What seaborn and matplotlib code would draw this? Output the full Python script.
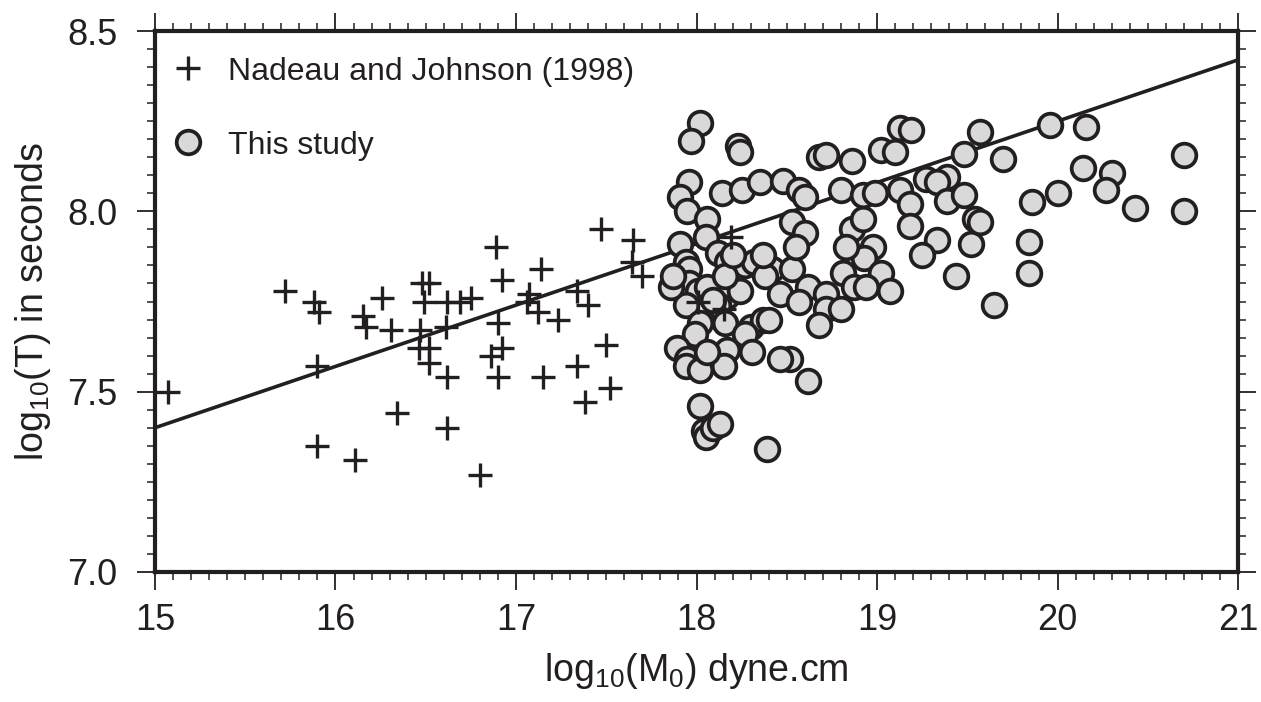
import matplotlib
matplotlib.use("Agg")
import matplotlib.pyplot as plt
from matplotlib.lines import Line2D
from matplotlib.ticker import MultipleLocator, FormatStrFormatter
import seaborn as sns
import pandas as pd

# Nadeau and Johnson (1998): log10(M0), log10(T)
nj_m0 = [15.07, 15.72, 15.88, 15.91, 15.90, 15.90, 16.11, 16.15, 16.17, 16.26,
         16.31, 16.34, 16.48, 16.52, 16.49, 16.47, 16.46, 16.52, 16.52, 16.62,
         16.69, 16.75, 16.61, 16.62, 16.62, 16.80, 16.89, 16.92, 17.14, 17.07,
         17.06, 17.12, 17.23, 16.90, 16.92, 16.86, 16.90, 17.15, 17.34, 17.40,
         17.34, 17.50, 17.52, 17.38, 17.47, 17.65, 17.64, 17.70, 18.19, 18.01,
         18.15]
nj_t = [7.50, 7.78, 7.75, 7.72, 7.57, 7.35, 7.31, 7.71, 7.68, 7.76,
        7.67, 7.44, 7.80, 7.80, 7.75, 7.67, 7.62, 7.62, 7.58, 7.75,
        7.75, 7.76, 7.68, 7.54, 7.40, 7.27, 7.90, 7.81, 7.84, 7.77,
        7.75, 7.72, 7.70, 7.69, 7.62, 7.60, 7.54, 7.54, 7.78, 7.74,
        7.57, 7.63, 7.51, 7.47, 7.95, 7.92, 7.86, 7.82, 7.93, 7.75,
        7.73]

# This study
ts_m0 = [18.02, 17.97, 18.23, 18.24, 17.96, 18.14, 18.25, 18.35, 18.48, 18.57,
         18.60, 18.68, 18.72, 18.86, 17.91, 17.95, 18.06, 18.05, 18.53, 18.60,
         18.86, 18.92, 17.91, 18.12, 18.17, 18.27, 18.32, 17.94, 17.96, 18.42,
         18.38, 18.53, 18.55, 18.81, 18.98, 18.93, 19.02, 18.83, 17.88, 17.96,
         18.01, 18.17, 18.24, 18.46, 18.62, 18.72, 18.87, 18.94, 19.07, 17.94,
         18.12, 18.57, 18.72, 18.80, 18.02, 18.16, 18.30, 18.37, 17.99, 18.27,
         18.68, 17.89, 18.17, 18.31, 17.95, 17.94, 18.02, 18.15, 18.52, 18.62,
         18.02, 18.04, 18.05, 18.09, 18.13, 18.39,
         19.13, 19.19, 19.57, 19.48, 19.70, 19.96, 20.16, 20.70, 20.14, 20.30,
         20.27, 20.00, 19.86, 20.43, 20.70, 19.84, 19.52, 19.33, 19.25, 19.27,
         19.13, 19.18, 19.18, 19.39, 19.33, 19.39, 19.48, 19.54, 19.57, 19.02,
         19.10, 18.80, 18.92, 18.99, 19.84, 19.44, 19.65,
         18.06, 18.16, 18.20, 18.37, 18.09, 18.06, 18.40, 18.46, 17.86, 17.87]
ts_t = [8.245, 8.195, 8.18, 8.165, 8.08, 8.05, 8.06, 8.08, 8.085, 8.06,
        8.04, 8.15, 8.155, 8.14, 8.04, 8.00, 7.98, 7.93, 7.97, 7.94,
        7.95, 7.98, 7.91, 7.885, 7.86, 7.85, 7.86, 7.86, 7.84, 7.84,
        7.82, 7.84, 7.90, 7.83, 7.90, 7.87, 7.83, 7.90, 7.79, 7.80,
        7.78, 7.765, 7.78, 7.77, 7.79, 7.77, 7.79, 7.79, 7.78, 7.74,
        7.74, 7.75, 7.73, 7.73, 7.69, 7.69, 7.68, 7.70, 7.66, 7.66,
        7.685, 7.62, 7.615, 7.61, 7.59, 7.57, 7.56, 7.57, 7.59, 7.53,
        7.46, 7.39, 7.375, 7.40, 7.41, 7.34,
        8.23, 8.225, 8.22, 8.16, 8.145, 8.24, 8.235, 8.155, 8.12, 8.105,
        8.06, 8.05, 8.025, 8.01, 8.00, 7.915, 7.91, 7.92, 7.88, 8.09,
        8.06, 8.02, 7.96, 8.095, 8.08, 8.03, 8.045, 7.98, 7.97, 8.17,
        8.165, 8.06, 8.045, 8.05, 7.83, 7.82, 7.74,
        7.79, 7.82, 7.88, 7.88, 7.755, 7.61, 7.70, 7.59, 7.79, 7.82]

# fitted line end points
fit_m0 = [15.0, 21.0]
fit_t = [7.40, 8.42]

nj = pd.DataFrame({"m0": nj_m0, "t": nj_t})
ts = pd.DataFrame({"m0": ts_m0, "t": ts_t})
fit = pd.DataFrame({"m0": fit_m0, "t": fit_t})

ink = "#231f20"
fill = "#d9d9d9"

sns.set_theme(style="ticks")
plt.rcParams["font.family"] = ["Liberation Sans", "DejaVu Sans"]
plt.rcParams["mathtext.default"] = "regular"

fig = plt.figure(figsize=(12.61, 7.02), dpi=100)
ax = fig.add_axes([0.1229, 0.1852, 0.8589, 0.7706])

sns.lineplot(data=fit, x="m0", y="t", ax=ax, color=ink, linewidth=2.6, zorder=2)
sns.scatterplot(data=ts, x="m0", y="t", ax=ax, marker="o", s=290,
                facecolor=fill, edgecolor=ink, linewidth=2.7, zorder=3)
sns.scatterplot(data=nj, x="m0", y="t", ax=ax, marker="+", s=280,
                color=ink, linewidth=2.4, zorder=4)

ax.set_xlim(15, 21)
ax.set_ylim(7.0, 8.5)
ax.xaxis.set_major_locator(MultipleLocator(1))
ax.xaxis.set_minor_locator(MultipleLocator(0.1))
ax.yaxis.set_major_locator(MultipleLocator(0.5))
ax.yaxis.set_minor_locator(MultipleLocator(0.05))
ax.yaxis.set_major_formatter(FormatStrFormatter("%.1f"))

for sp in ax.spines.values():
    sp.set_linewidth(3)
    sp.set_color(ink)
    sp.set_visible(True)

ax.tick_params(which="both", direction="out", top=True, right=True,
               color=ink, labelcolor=ink, labelsize=26)
ax.tick_params(which="major", length=13, width=1.3)
ax.tick_params(which="minor", length=6, width=1.1)
ax.tick_params(axis="x", which="major", pad=9)
ax.tick_params(axis="y", which="major", pad=14)

ax.set_xlabel("log$_{10}$(M$_0$) dyne.cm", fontsize=27, color=ink, labelpad=10)
ax.set_ylabel("log$_{10}$(T) in seconds", fontsize=27, color=ink, labelpad=10)

handles = [
    Line2D([], [], linestyle="none", marker="+", markersize=17,
           markeredgewidth=2.4, color=ink),
    Line2D([], [], linestyle="none", marker="o", markersize=17,
           markerfacecolor=fill, markeredgecolor=ink, markeredgewidth=2.7),
]
ax.legend(handles, ["Nadeau and Johnson (1998)", "This study"],
          loc="upper left", bbox_to_anchor=(-0.014, 1.0), frameon=False,
          fontsize=23, labelspacing=1.38, handlelength=1.4,
          handletextpad=0.55, borderaxespad=0.3, borderpad=0.5,
          labelcolor=ink)

fig.savefig("out.png", dpi=100)
